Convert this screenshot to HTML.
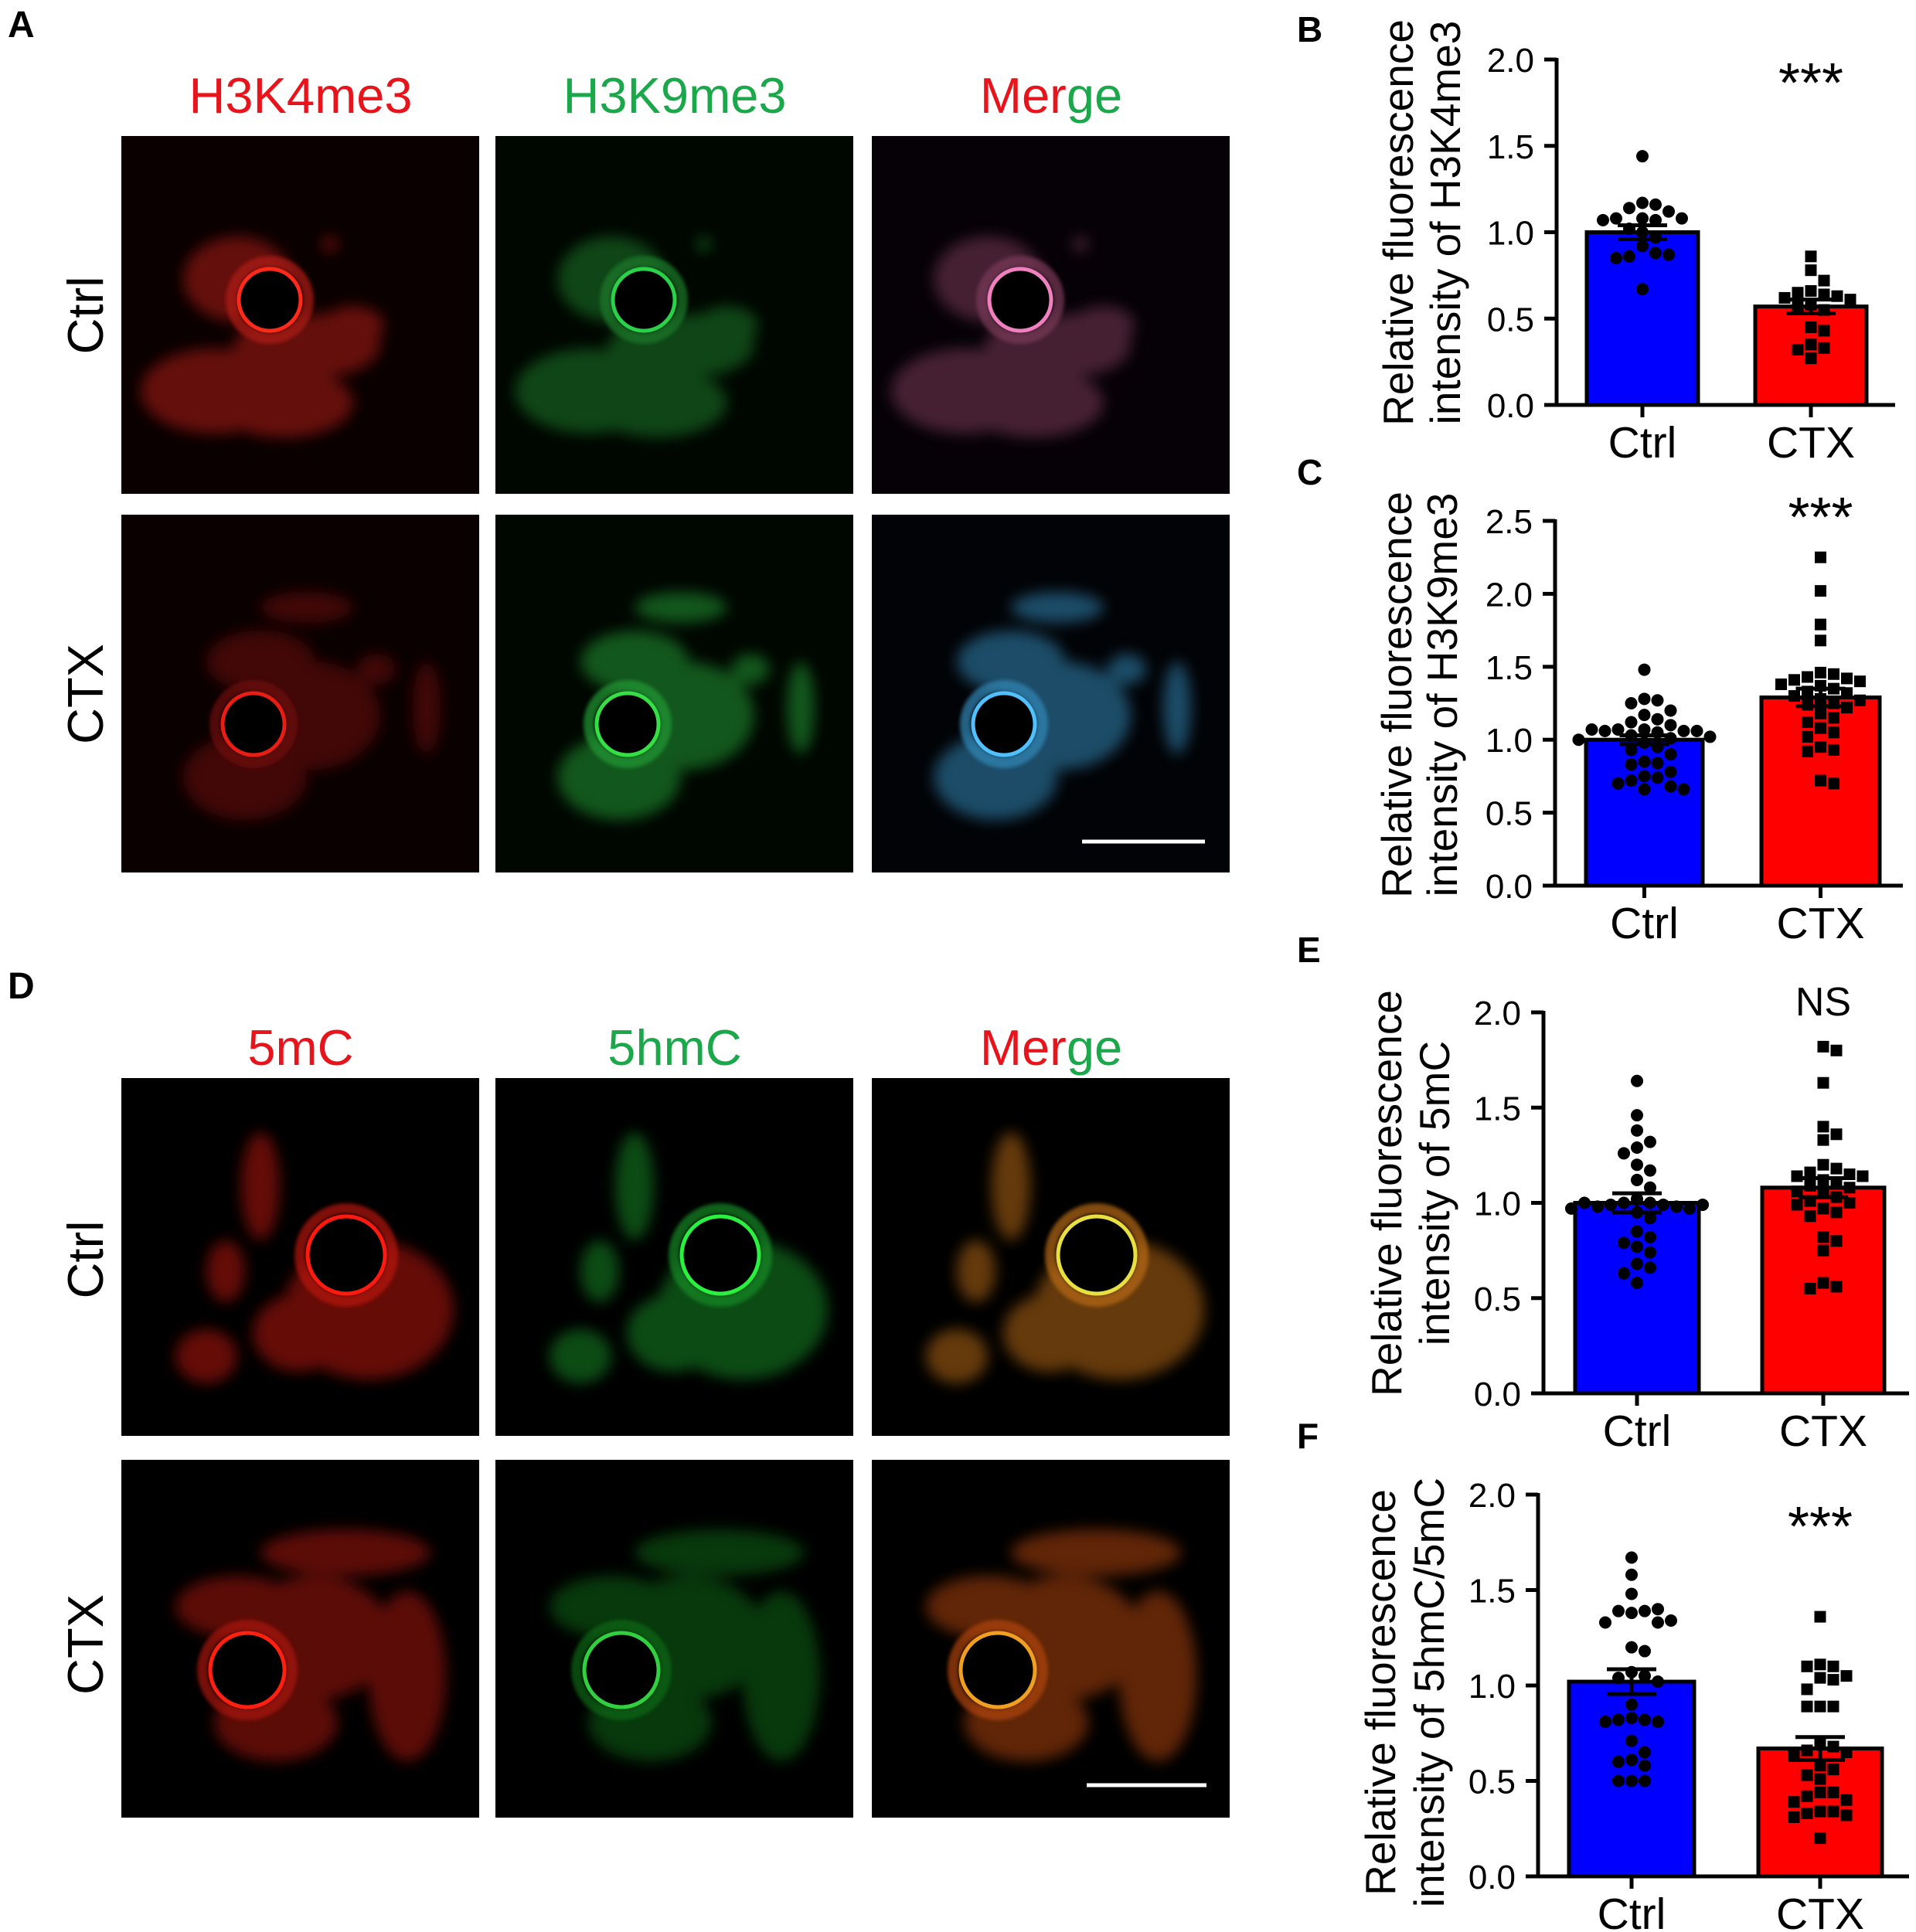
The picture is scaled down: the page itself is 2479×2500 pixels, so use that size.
<!DOCTYPE html>
<html><head><meta charset="utf-8"><style>
html,body{margin:0;padding:0;background:#fff;}
svg{display:block;font-family:"Liberation Sans",Arial,sans-serif;}
</style></head><body>
<svg id="fig" width="2479" height="2500" viewBox="0 0 2479 2500" xmlns="http://www.w3.org/2000/svg">
<defs>
<filter id="blur" x="-50%" y="-50%" width="200%" height="200%"><feGaussianBlur stdDeviation="9"/></filter>
<filter id="blurS" x="-50%" y="-50%" width="200%" height="200%"><feGaussianBlur stdDeviation="2.5"/></filter>
</defs>
<rect width="2479" height="2500" fill="#fff"/>
<g id="panels"></g>
<g id="charts"></g>
<text x="10" y="48" font-size="48" font-weight="bold">A</text>
<text x="10" y="1292" font-size="48" font-weight="bold">D</text>
<text x="1678" y="54" font-size="46" font-weight="bold">B</text>
<text x="1678" y="627" font-size="46" font-weight="bold">C</text>
<text x="1678" y="1245" font-size="46" font-weight="bold">E</text>
<text x="1678" y="1874" font-size="46" font-weight="bold">F</text>
<text x="389" y="146" font-size="65" fill="#e8141c" text-anchor="middle">H3K4me3</text>
<text x="873" y="146" font-size="65" fill="#1aa84a" text-anchor="middle">H3K9me3</text>
<text x="1360" y="146" font-size="65" text-anchor="middle"><tspan fill="#e8141c">Mer</tspan><tspan fill="#1aa84a">ge</tspan></text>
<text x="389" y="1378" font-size="65" fill="#e8141c" text-anchor="middle">5mC</text>
<text x="873" y="1378" font-size="65" fill="#1aa84a" text-anchor="middle">5hmC</text>
<text x="1360" y="1378" font-size="65" text-anchor="middle"><tspan fill="#e8141c">Mer</tspan><tspan fill="#1aa84a">ge</tspan></text>
<text transform="translate(133,408) rotate(-90)" font-size="65" text-anchor="middle">Ctrl</text>
<text transform="translate(133,898) rotate(-90)" font-size="65" text-anchor="middle">CTX</text>
<text transform="translate(133,1630) rotate(-90)" font-size="65" text-anchor="middle">Ctrl</text>
<text transform="translate(133,2128) rotate(-90)" font-size="65" text-anchor="middle">CTX</text>
</svg>
<script>
// ---- chart data ----
const categories = ["Ctrl", "CTX"];
const bBarValues = [1.0, 0.57];
const bSem = [0.04, 0.04];
const bCtrlPoints = [1.44,1.17,1.16,1.14,1.12,1.08,1.07,1.08,1.08,1.07,1.02,1.0,0.97,0.92,0.88,0.86,0.87,0.85,0.67];
const bCtxPoints = [0.86,0.78,0.72,0.66,0.65,0.64,0.63,0.62,0.61,0.58,0.57,0.55,0.45,0.43,0.35,0.33,0.32,0.27];
const bTicks = ["0.0","0.5","1.0","1.5","2.0"];
const cBarValues = [1.0, 1.29];
const cSem = [0.03, 0.06];
const cCtrlPoints = [1.48,1.28,1.27,1.25,1.20,1.17,1.14,1.12,1.10,1.07,1.07,1.06,1.06,1.06,1.07,1.05,1.03,1.02,1.01,1.0,0.98,0.95,0.93,0.90,0.85,0.84,0.83,0.78,0.75,0.74,0.72,0.70,0.68,0.66,0.66];
const cCtxPoints = [2.25,2.02,1.79,1.68,1.46,1.45,1.43,1.42,1.41,1.40,1.38,1.37,1.35,1.33,1.32,1.30,1.28,1.27,1.25,1.24,1.22,1.18,1.15,1.12,1.08,1.05,1.02,0.95,0.93,0.92,0.72,0.70];
const cTicks = ["0.0","0.5","1.0","1.5","2.0","2.5"];
const eBarValues = [1.0, 1.08];
const eSem = [0.05, 0.05];
const eCtrlPoints = [1.64,1.46,1.38,1.32,1.29,1.26,1.20,1.17,1.12,1.08,1.02,1.0,1.0,0.99,0.99,0.98,0.98,0.97,1.0,0.99,0.97,0.95,0.92,0.85,0.82,0.79,0.77,0.74,0.68,0.66,0.63,0.58];
const eCtxPoints = [1.82,1.80,1.63,1.40,1.36,1.33,1.20,1.18,1.16,1.15,1.14,1.14,1.12,1.10,1.09,1.08,1.06,1.05,1.03,1.01,1.0,0.99,0.97,0.95,0.93,0.82,0.80,0.75,0.58,0.56,0.55];
const eTicks = ["0.0","0.5","1.0","1.5","2.0"];
const fBarValues = [1.02, 0.67];
const fSem = [0.065, 0.06];
const fCtrlPoints = [1.67,1.58,1.48,1.38,1.39,1.39,1.40,1.33,1.33,1.34,1.20,1.18,1.07,1.05,1.04,1.02,0.90,0.83,0.82,0.82,0.81,0.81,0.71,0.65,0.61,0.60,0.58,0.50,0.50,0.50];
const fCtxPoints = [1.36,1.11,1.10,1.10,1.05,1.04,1.03,0.98,0.89,0.89,0.89,0.69,0.68,0.66,0.65,0.63,0.58,0.56,0.53,0.51,0.44,0.44,0.42,0.40,0.39,0.34,0.34,0.33,0.32,0.31,0.20];
const fTicks = ["0.0","0.5","1.0","1.5","2.0"];

const NS = "http://www.w3.org/2000/svg";
function mk(tag, attrs, parent){
  const e = document.createElementNS(NS, tag);
  for (const k in attrs) e.setAttribute(k, attrs[k]);
  parent.appendChild(e);
  return e;
}

const charts = [
  {id:"b", vals:bBarValues, sem:bSem, pts:[bCtrlPoints,bCtxPoints], ticks:bTicks, max:2.0,
   ax:2014, y0:524, yTop:77, bars:[[2053,2197],[2271,2415]], xEnd:2452,
   t1x:1809, t2x:1870, tcy:288, title2:"intensity of H3K4me3", stat:"***", sy:118},
  {id:"c", vals:cBarValues, sem:cSem, pts:[cCtrlPoints,cCtxPoints], ticks:cTicks, max:2.5,
   ax:2012, y0:1146, yTop:674, bars:[[2052,2203],[2279,2432]], xEnd:2462,
   t1x:1807, t2x:1866, tcy:899, title2:"intensity of H3K9me3", stat:"***", sy:680},
  {id:"e", vals:eBarValues, sem:eSem, pts:[eCtrlPoints,eCtxPoints], ticks:eTicks, max:2.0,
   ax:1997, y0:1803, yTop:1310, bars:[[2038,2198],[2280,2438]], xEnd:2470,
   t1x:1794, t2x:1856, tcy:1544, title2:"intensity of 5mC", stat:"NS", sy:1314},
  {id:"f", vals:fBarValues, sem:fSem, pts:[fCtrlPoints,fCtxPoints], ticks:fTicks, max:2.0,
   ax:1990, y0:2428, yTop:1934, bars:[[2030,2192],[2275,2435]], xEnd:2470,
   t1x:1786, t2x:1849, tcy:2190, title2:"intensity of 5hmC/5mC", stat:"***", sy:1986}
];

const chartsG = document.getElementById("charts");
charts.forEach(c => {
  const g = mk("g", {}, chartsG);
  
  
  const yS = v => c.y0 - (v / c.max) * (c.y0 - c.yTop);
  const colors = ["#0000ff", "#ff0000"];
  c.vals.forEach((v, i) => {
    const [x1, x2] = c.bars[i];
    const r = mk("rect", {x:x1, y:yS(v), width:x2-x1, height:c.y0-yS(v), fill:colors[i], stroke:"#000", "stroke-width":5}, g);
    
    
  });
  c.pts.forEach((arr, i) => {
    const [x1, x2] = c.bars[i];
    const cx = (x1 + x2) / 2;
    const placed = [];
    const rad = 8, sq = 15, d = 17;
    arr.forEach((v, j) => {
      const py = yS(v);
      let px = cx;
      for (let k = 0; k < 20; k++) {
        const off = (k === 0) ? 0 : (k % 2 ? 1 : -1) * Math.ceil(k / 2) * d;
        const cand = cx + off;
        if (!placed.some(p => Math.hypot(p[0]-cand, p[1]-py) < d - 1)) { px = cand; break; }
      }
      placed.push([px, py]);
      let m;
      if (i === 0) m = mk("circle", {cx:px, cy:py, r:rad, fill:"#000"}, g);
      else m = mk("rect", {x:px-sq/2, y:py-sq/2, width:sq, height:sq, fill:"#000"}, g);
      
      
    });
  });
  c.vals.forEach((v, i) => {
    const [x1, x2] = c.bars[i];
    const cx = (x1 + x2) / 2;
    const eg = mk("g", {stroke:"#000", "stroke-width":5}, g);
    
    
    mk("line", {x1:cx, x2:cx, y1:yS(v - c.sem[i]), y2:yS(v + c.sem[i])}, eg);
    mk("line", {x1:cx-32, x2:cx+32, y1:yS(v + c.sem[i]), y2:yS(v + c.sem[i])}, eg);
    mk("line", {x1:cx-32, x2:cx+32, y1:yS(v - c.sem[i]), y2:yS(v - c.sem[i])}, eg);
  });
  const axG = mk("g", {stroke:"#000", "stroke-width":5, fill:"none"}, g);
  
  
  mk("line", {x1:c.ax, x2:c.ax, y1:c.yTop-2, y2:c.y0+2}, axG);
  mk("line", {x1:c.ax-16, x2:c.xEnd, y1:c.y0, y2:c.y0}, axG);
  c.ticks.forEach((t, k) => {
    const v = parseFloat(t);
    const ty = yS(v);
    mk("line", {x1:c.ax-16, x2:c.ax, y1:ty, y2:ty}, axG);
    const tl = mk("text", {x:c.ax-29, y:ty+16, "font-size":44, "text-anchor":"end", fill:"#000"}, g);
    tl.textContent = t;
    
    
  });
  categories.forEach((cat, i) => {
    const [x1, x2] = c.bars[i];
    const cx = (x1 + x2) / 2;
    mk("line", {x1:cx, x2:cx, y1:c.y0, y2:c.y0+16}, axG);
    const xl = mk("text", {x:cx, y:c.y0+68, "font-size":57, "text-anchor":"middle", fill:"#000"}, g);
    xl.textContent = cat;
    
    
  });
  const t1 = mk("text", {transform:`translate(${c.t1x + 19},${c.tcy}) rotate(-90)`, "font-size":55, "text-anchor":"middle"}, g);
  t1.textContent = "Relative fluorescence";
  
  
  const t2 = mk("text", {transform:`translate(${c.t2x + 19},${c.tcy}) rotate(-90)`, "font-size":55, "text-anchor":"middle"}, g);
  t2.textContent = c.title2;
  
  
  const cxCtx = (c.bars[1][0] + c.bars[1][1]) / 2;
  const st = mk("text", {x:cxCtx, y:c.sy + (c.stat === "NS" ? 0 : 14), "font-size": c.stat === "NS" ? 52 : 72, "text-anchor":"middle", fill:"#000"}, g);
  st.textContent = c.stat;
  
  
});

// ---- microscopy panels ----
const colX = [157, 641, 1128];
const rowY = [176, 666, 1395, 1889];
const P = 463;
const layouts = [
  {ring:[192,212,40], blobs:[[150,185,70,55],[120,330,95,55],[210,345,90,45],[265,270,70,40],[300,245,40,25],[185,280,40,40],[270,140,10,10]]},
  {ring:[171,271,40], blobs:[[240,120,60,20],[180,190,70,40],[245,260,90,70],[160,340,80,55],[395,250,18,60],[330,200,25,20]]},
  {ring:[291,229,50], blobs:[[320,300,110,90],[180,140,25,70],[135,250,25,40],[110,360,40,35],[230,330,60,50]]},
  {ring:[163,272,48], blobs:[[150,190,80,40],[250,230,100,80],[370,280,50,110],[200,340,80,50],[290,120,110,30]]}
];
const schemes = [
  [{bg:"#0a0000", ring:"#ff2a1a", blob:"#b01a12"}, {bg:"#000600", ring:"#2ad24a", blob:"#1a7a2a"}, {bg:"#060106", ring:"#f080c0", blob:"#7a3a58"}],
  [{bg:"#0a0000", ring:"#e81e14", blob:"#701008"}, {bg:"#000600", ring:"#35e045", blob:"#209a34"}, {bg:"#020306", ring:"#50c0ff", blob:"#3088b8"}],
  [{bg:"#000", ring:"#ff1a10", blob:"#b8140c"}, {bg:"#000", ring:"#2af040", blob:"#188a26"}, {bg:"#000", ring:"#e8e040", blob:"#b86a14"}],
  [{bg:"#000", ring:"#ff2010", blob:"#a8140c"}, {bg:"#000", ring:"#30d040", blob:"#106818"}, {bg:"#000", ring:"#f0a020", blob:"#b04410"}]
];
const rowNames = ["a-ctrl","a-ctx","d-ctrl","d-ctx"];
const colNames = ["ch1","ch2","merge"];
const panelsG = document.getElementById("panels");
rowY.forEach((ry, r) => {
  colX.forEach((cx, c) => {
    const s = schemes[r][c];
    const L = layouts[r];
    const g = mk("g", {transform:`translate(${cx},${ry})`}, panelsG);
    
    
    mk("rect", {x:0, y:0, width:P, height:P, fill:s.bg}, g);
    const bg = mk("g", {filter:"url(#blur)", opacity:0.55}, g);
    L.blobs.forEach(b => mk("ellipse", {cx:b[0], cy:b[1], rx:b[2], ry:b[3], fill:s.blob}, bg));
    mk("circle", {cx:L.ring[0], cy:L.ring[1], r:L.ring[2]+10, fill:"none", stroke:s.blob, "stroke-width":14, filter:"url(#blurS)", opacity:0.7}, g);
    mk("circle", {cx:L.ring[0], cy:L.ring[1], r:L.ring[2], fill:"#000", stroke:s.ring, "stroke-width":5}, g);
  });
});
const sb1 = mk("line", {x1:1400, x2:1559, y1:1089, y2:1089, stroke:"#fff", "stroke-width":5}, panelsG);


const sb2 = mk("line", {x1:1406, x2:1561, y1:2310, y2:2310, stroke:"#fff", "stroke-width":5}, panelsG);


</script>
</body></html>
